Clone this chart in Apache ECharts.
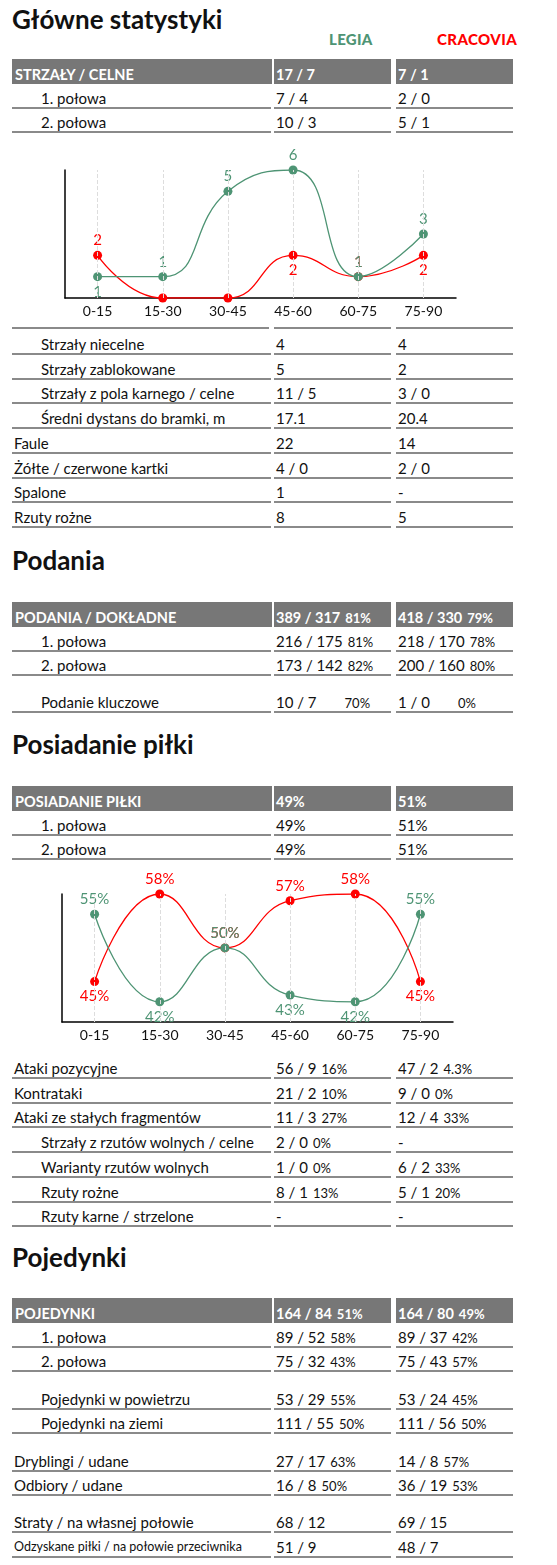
<!DOCTYPE html>
<html><head><meta charset="utf-8">
<script src="https://cdn.jsdelivr.net/npm/echarts@6/dist/echarts.min.js"></script>
<style>
body{margin:0;background:#fff;font-family:Lato,"Noto Sans",sans-serif;color:#111;}
#page{position:relative;width:557px;height:1565px;}
.t{position:absolute;font-size:26px;font-weight:bold;left:12px;}
.c{position:absolute;height:23px;border-bottom:2px solid #8a8a8a;font-size:15px;line-height:28px;white-space:nowrap;overflow:hidden;box-sizing:content-box;}
.h{background:#777;color:#fff;font-weight:bold;font-size:14.5px;border-bottom:none;height:25px;line-height:32px;}
.p{font-size:13px;margin-left:5px;}
</style></head><body><div id="page"></div>
<script>
const teams=["LEGIA","CRACOVIA"];
const periods=["0-15","15-30","30-45","45-60","60-75","75-90"];
const shotsLegia=[1,1,5,6,1,3];
const shotsCracovia=[2,0,0,2,1,2];
const possLegia=[55,42,50,43,42,55];
const possCracovia=[45,58,50,57,58,45];
// rows: [label, indent, legia, legiaPct, cracovia, cracoviaPct, header]
const shotsRows=[["STRZAŁY / CELNE",0,"17 / 7","","7 / 1","",1],["1. połowa",1,"7 / 4","","2 / 0",""],["2. połowa",1,"10 / 3","","5 / 1",""]];
const shotsRows2=[["Strzały niecelne",1,"4","","4",""],["Strzały zablokowane",1,"5","","2",""],["Strzały z pola karnego / celne",1,"11 / 5","","3 / 0",""],["Średni dystans do bramki, m",1,"17.1","","20.4",""],["Faule",0,"22","","14",""],["Żółte / czerwone kartki",0,"4 / 0","","2 / 0",""],["Spalone",0,"1","","-",""],["Rzuty rożne",0,"8","","5",""]];
const passRows=[["PODANIA / DOKŁADNE",0,"389 / 317","81%","418 / 330","79%",1],["1. połowa",1,"216 / 175","81%","218 / 170","78%"],["2. połowa",1,"173 / 142","82%","200 / 160","80%"],null,["Podanie kluczowe",1,"10 / 7","70%","1 / 0","0%",0,1]];
const possRows=[["POSIADANIE PIŁKI",0,"49%","","51%","",1],["1. połowa",1,"49%","","51%",""],["2. połowa",1,"49%","","51%",""]];
const attackRows=[["Ataki pozycyjne",0,"56 / 9","16%","47 / 2","4.3%"],["Kontrataki",0,"21 / 2","10%","9 / 0","0%"],["Ataki ze stałych fragmentów",0,"11 / 3","27%","12 / 4","33%"],["Strzały z rzutów wolnych / celne",1,"2 / 0","0%","-",""],["Warianty rzutów wolnych",1,"1 / 0","0%","6 / 2","33%"],["Rzuty rożne",1,"8 / 1","13%","5 / 1","20%"],["Rzuty karne / strzelone",1,"-","","-",""]];
const duelRows=[["POJEDYNKI",0,"164 / 84","51%","164 / 80","49%",1],["1. połowa",1,"89 / 52","58%","89 / 37","42%"],["2. połowa",1,"75 / 32","43%","75 / 43","57%"],null,["Pojedynki w powietrzu",1,"53 / 29","55%","53 / 24","45%"],["Pojedynki na ziemi",1,"111 / 55","50%","111 / 56","50%"],null,["Dryblingi / udane",0,"27 / 17","63%","14 / 8","57%"],["Odbiory / udane",0,"16 / 8","50%","36 / 19","53%"],null,["Straty / na własnej połowie",0,"68 / 12","","69 / 15",""],["Odzyskane piłki / na połowie przeciwnika",0,"51 / 9","","48 / 7","",0,0,1]];

const page=document.getElementById('page');
function el(cls,css,html){const d=document.createElement('div');d.className=cls;d.style.cssText=css;d.innerHTML=html;page.appendChild(d);return d;}
function title(txt,y){el('t','top:'+y+'px',txt);}
function rows(list,y0,step,gap){
  let y=y0;
  list.forEach(r=>{
    if(!r){y+=gap;return;}
    const h=r[6]?' h':'';
    const ind=r[1]?(h?0:27):0;
    const fs=r[8]?'font-size:12.5px;':'';
    el('c'+h,'left:12px;width:'+(257-ind)+'px;top:'+y+'px;padding-left:'+(ind+(h?3:2))+'px;'+fs,r[0]);
    const sp=r[7]?'margin-left:28px':'';
    el('c'+h,'left:274px;width:115px;top:'+y+'px;padding-left:2px;',r[2]+(r[3]?'<span class="p" style="'+sp+'">'+r[3]+'</span>':''));
    el('c'+h,'left:396px;width:115px;top:'+y+'px;padding-left:2px;',r[4]+(r[5]?'<span class="p" style="'+sp+'">'+r[5]+'</span>':''));
    y+=step;
  });
}
title('Główne statystyki',3);
el('','position:absolute;left:329px;top:30px;font-weight:900;font-size:15px;letter-spacing:0.3px;color:#4e9474',teams[0]);
el('','position:absolute;left:437px;top:30px;font-weight:900;font-size:15px;letter-spacing:0.4px;color:#ff0000',teams[1]);
rows(shotsRows,59,24.7,0);
el('c','left:12px;width:257px;top:304px;','');el('c','left:274px;width:117px;top:304px;','');el('c','left:396px;width:117px;top:304px;','');
rows(shotsRows2,330,24.7,0);
title('Podania',544);
rows(passRows,602,24.7,12);
title('Posiadanie piłki',728);
rows(possRows,786,24.7,0);
rows(attackRows,1054,24.7,0);
title('Pojedynki',1241);
rows(duelRows,1298,24.7,12.5);

function mkChart(top,h,grid,cats,a,b,min,max,fmt,posA,posB){
  const d=el('','position:absolute;left:0;top:'+top+'px;width:557px;height:'+h+'px','');
  const c=echarts.init(d);
  const G='#4e9474',R='#ff0000';
  const ser=(name,vals,col,pos,z)=>({name,type:'line',smooth:0.5,data:vals.map((v,i)=>({value:v,label:{position:pos[i],show:v!==0}})),
    symbol:'circle',symbolSize:9,z:z,itemStyle:{color:col},lineStyle:{color:col,width:1.3},
    label:{show:true,color:col,fontSize:15,fontFamily:'Lato',distance:3,formatter:p=>p.value+fmt}});
  const s1=ser('B',b,R,posB,2);
  s1.markLine={silent:true,symbol:'none',label:{show:false},lineStyle:{color:'#ddd',type:'dashed',width:1},data:cats.map(x=>({xAxis:x}))};
  c.setOption({animation:false,grid,
    xAxis:{type:'category',data:cats,axisLine:{lineStyle:{color:'#000',width:1.5}},axisTick:{show:false},axisLabel:{color:'#111',fontSize:14,fontFamily:'Lato',margin:6}},
    yAxis:{type:'value',min,max,axisLine:{show:true,lineStyle:{color:'#000',width:1.5}},axisTick:{show:false},axisLabel:{show:false},splitLine:{show:false}},
    series:[s1,ser('A',a,G,posA,3)]});
}
mkChart(140,200,{left:65,right:101,top:30,bottom:42},periods,shotsLegia,shotsCracovia,0,6,'',
  ['bottom','top','top','top','top','top'],['top','top','top','bottom','top','bottom']);
mkChart(860,200,{left:62,right:104,top:34,bottom:38},periods,possLegia,possCracovia,39,58,'%',
  ['top','bottom','top','bottom','bottom','top'],['bottom','top','top','top','top','bottom']);
</script></body></html>
